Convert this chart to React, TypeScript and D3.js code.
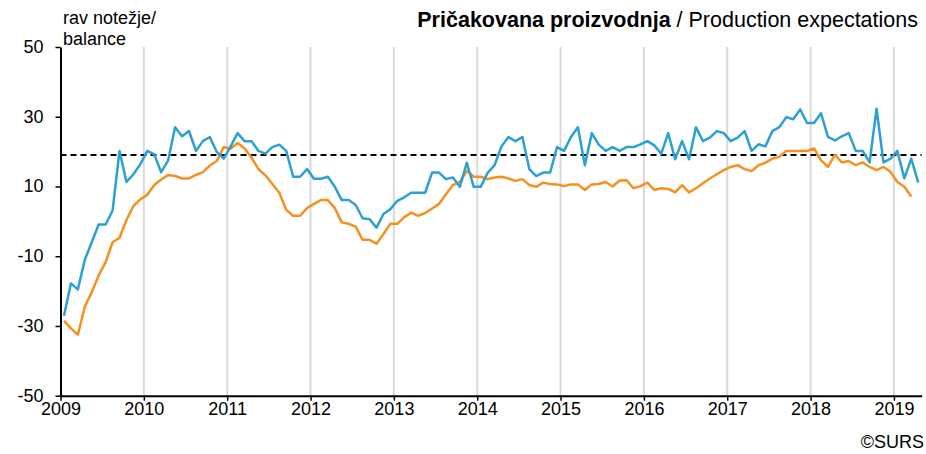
import * as d3 from 'd3';
import React, { useEffect, useRef } from 'react';

// monthly, Jan 2009 - Apr 2019 (original) / Mar 2019 (trend)
const originalValues = [
  -27.1, -17.8, -19.5, -11.0, -6.0, -0.9, -0.9, 3.1, 20.2, 11.3, 13.5, 16.4,
  20.2, 19.2, 14.1, 17.5, 27.0, 24.4, 25.9, 20.2, 23.0, 24.2, 19.9, 18.0,
  21.5, 25.3, 23.0, 23.0, 20.2, 19.4, 21.3, 22.0, 20.2, 12.8, 12.8, 15.0,
  12.2, 12.2, 12.8, 9.9, 6.1, 6.1, 4.7, 0.9, 0.6, -1.8, 2.1, 3.5,
  5.9, 6.9, 8.2, 8.2, 8.2, 14.0, 14.0, 12.1, 12.6, 9.9, 16.8, 9.9,
  9.9, 13.9, 16.1, 21.5, 24.2, 23.0, 24.2, 15.0, 13.0, 14.0, 14.0, 21.3,
  20.2, 24.2, 27.0, 16.1, 25.3, 22.0, 20.2, 21.3, 20.2, 21.3, 21.3, 22.1,
  23.0, 21.8, 19.4, 25.3, 17.8, 23.0, 17.8, 27.0, 23.0, 24.0, 25.9, 25.3,
  23.0, 24.0, 25.9, 20.2, 22.1, 21.5, 25.9, 27.0, 29.9, 29.3, 32.1, 28.2,
  28.2, 31.0, 24.2, 23.2, 24.4, 25.3, 20.2, 20.2, 16.9, 32.3, 16.9, 18.0,
  20.2, 12.3, 18.0, 11.1,
];

const trendValues = [
  -28.5, -30.7, -32.5, -24.5, -20.3, -15.5, -11.7, -6.0, -4.7, 0.4, 4.4, 6.3,
  7.6, 10.4, 12.0, 13.3, 13.0, 12.3, 12.3, 13.3, 14.1, 16.0, 17.3, 21.3,
  20.8, 22.5, 20.9, 18.3, 15.0, 13.2, 10.7, 8.2, 3.3, 1.6, 1.6, 3.8,
  5.0, 6.1, 6.1, 3.8, -0.3, -0.7, -1.5, -5.3, -5.3, -6.4, -3.6, -0.7,
  -0.7, 1.2, 2.5, 1.6, 2.4, 3.7, 5.0, 7.8, 10.4, 11.3, 14.5, 12.8,
  12.8, 12.1, 12.6, 12.8, 12.3, 11.6, 12.1, 10.4, 9.9, 11.1, 10.7, 10.6,
  10.1, 10.6, 10.6, 9.0, 10.6, 10.7, 11.3, 10.0, 11.7, 11.8, 9.5, 10.1,
  11.1, 9.0, 9.5, 9.3, 8.3, 10.4, 8.3, 9.5, 10.9, 12.3, 13.5, 14.7,
  15.6, 16.1, 15.0, 14.4, 16.1, 16.8, 18.0, 18.5, 20.2, 20.2, 20.2, 20.2,
  20.9, 17.5, 15.6, 19.1, 16.9, 17.3, 16.1, 16.9, 15.6, 14.7, 15.6, 14.2,
  11.3, 9.9, 7.1,
];

const longTermAverage = 19;
const yearLabels = ['2009', '2010', '2011', '2012', '2013', '2014', '2015', '2016', '2017', '2018', '2019'];
const yTicks = [50, 30, 10, -10, -30, -50];
const monthCount = 124;

const FONT = '"Liberation Sans", Arial, sans-serif';

function App() {
  const svgRef = useRef<SVGSVGElement>(null);

  useEffect(() => {
    const width = 926;
    const height = 454;
    const margin = { top: 47, right: 4.3, bottom: 58.3, left: 60.5 };

    const svg = d3.select(svgRef.current)
      .attr('width', width)
      .attr('height', height);
    svg.selectAll('*').remove();

    const x = d3.scaleLinear()
      .domain([0, monthCount])
      .range([margin.left, width - margin.right]);

    const y = d3.scaleLinear()
      .domain([-50, 50])
      .range([height - margin.bottom, margin.top]);

    // year gridlines
    svg.append('g')
      .selectAll('line')
      .data(yearLabels.slice(1))
      .join('line')
      .attr('x1', (d, i) => x((i + 1) * 12))
      .attr('x2', (d, i) => x((i + 1) * 12))
      .attr('y1', y(50))
      .attr('y2', y(-50))
      .attr('stroke', '#d9d9d9')
      .attr('stroke-width', 2);

    // x axis
    const xAxis = d3.axisBottom(x)
      .tickValues(yearLabels.map((d, i) => i * 12))
      .tickFormat((d, i) => yearLabels[i])
      .tickSize(5)
      .tickSizeOuter(0);

    const gx = svg.append('g')
      .attr('transform', `translate(0,${y(-50)})`)
      .call(xAxis);
    gx.select('.domain').attr('stroke', '#000').attr('stroke-width', 2);
    gx.selectAll('.tick line').attr('stroke', '#000').attr('stroke-width', 1.5);
    gx.selectAll('.tick text')
      .attr('font-family', FONT)
      .attr('font-size', 18)
      .attr('fill', '#000')
      .attr('y', 7)
      .attr('dy', '0.71em');

    // y axis (plain hyphen for negatives, as in the source)
    const yAxis = d3.axisLeft(y)
      .tickValues(yTicks)
      .tickFormat(d => String(d))
      .tickSize(5)
      .tickSizeOuter(0)
      .tickPadding(12);

    const gy = svg.append('g')
      .attr('transform', `translate(${margin.left},0)`)
      .call(yAxis);
    gy.select('.domain').attr('stroke', '#000').attr('stroke-width', 2);
    gy.selectAll('.tick line').attr('stroke', '#000').attr('stroke-width', 1.5);
    gy.selectAll('.tick text')
      .attr('font-family', FONT)
      .attr('font-size', 18)
      .attr('fill', '#000')
      .attr('dy', '0.3em');

    // long-term average
    svg.append('line')
      .attr('x1', x(0))
      .attr('x2', x(monthCount))
      .attr('y1', y(longTermAverage))
      .attr('y2', y(longTermAverage))
      .attr('stroke', '#000')
      .attr('stroke-width', 2)
      .attr('stroke-dasharray', '6,4');

    const line = d3.line<number>()
      .x((d, i) => x(i + 0.5))
      .y(d => y(d));

    svg.append('path')
      .datum(trendValues)
      .attr('fill', 'none')
      .attr('stroke', '#f7901e')
      .attr('stroke-width', 2.5)
      .attr('stroke-linejoin', 'round')
      .attr('d', line);

    svg.append('path')
      .datum(originalValues)
      .attr('fill', 'none')
      .attr('stroke', '#2ba0d4')
      .attr('stroke-width', 2.5)
      .attr('stroke-linejoin', 'round')
      .attr('d', line);

    // texts
    const title = svg.append('text')
      .attr('x', 918)
      .attr('y', 27)
      .attr('text-anchor', 'end')
      .attr('font-family', FONT)
      .attr('font-size', 21.5)
      .attr('fill', '#000');
    title.append('tspan').attr('font-weight', 'bold').text('Pričakovana proizvodnja');
    title.append('tspan').text(' / Production expectations');

    svg.append('text')
      .attr('x', 63)
      .attr('y', 24)
      .attr('font-family', FONT)
      .attr('font-size', 18)
      .text('rav notežje/');

    svg.append('text')
      .attr('x', 63)
      .attr('y', 45)
      .attr('font-family', FONT)
      .attr('font-size', 18)
      .text('balance');

    svg.append('text')
      .attr('x', 924)
      .attr('y', 448)
      .attr('text-anchor', 'end')
      .attr('font-family', FONT)
      .attr('font-size', 18)
      .text('©SURS');
  }, []);

  return <svg ref={svgRef} style={{ position: 'absolute', left: 0, top: 0, display: 'block' }} />;
}

export default App;
